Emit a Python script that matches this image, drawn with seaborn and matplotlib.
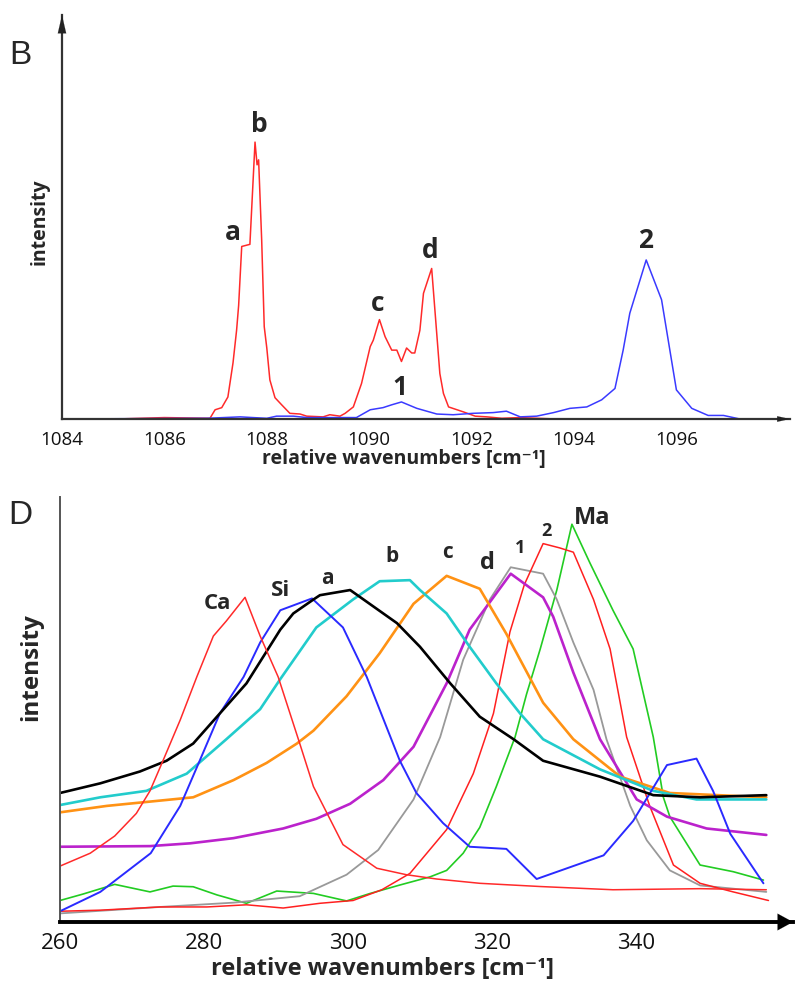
import numpy as np
import pandas as pd
import matplotlib
matplotlib.use("Agg")
import matplotlib.pyplot as plt
import seaborn as sns

# ---- panel B data (relative wavenumbers, arbitrary intensity) ----
b_red_x = [1085.07, 1086.0, 1086.89, 1086.99, 1087.12, 1087.24, 1087.34, 1087.41, 1087.45,
           1087.51, 1087.67, 1087.77, 1087.81, 1087.84, 1087.9, 1087.95, 1088.0, 1088.06,
           1088.16, 1088.29, 1088.45, 1088.65, 1088.78, 1089.1, 1089.23, 1089.43, 1089.53,
           1089.69, 1089.85, 1090.02, 1090.08, 1090.2, 1090.31, 1090.44, 1090.54, 1090.63,
           1090.73, 1090.83, 1090.89, 1090.99, 1091.06, 1091.22, 1091.38, 1091.45, 1091.55,
           1091.84, 1092.07, 1092.3, 1092.59, 1092.95, 1093.27, 1093.66]
b_red_y = [0.0, 0.02, 0.01, 0.13, 0.16, 0.31, 0.79, 1.25, 1.6,
           2.43, 2.46, 3.9, 3.58, 3.65, 2.52, 1.3, 1.0, 0.55,
           0.3, 0.2, 0.08, 0.07, 0.04, 0.03, 0.06, 0.04, 0.08,
           0.17, 0.5, 1.02, 1.11, 1.4, 1.16, 0.97, 0.97, 0.81,
           1.0, 0.93, 0.93, 1.25, 1.77, 2.12, 0.64, 0.36, 0.17,
           0.1, 0.04, 0.03, 0.01, 0.02, 0.01, 0.0]
b_blue_x = [1084.0, 1086.83, 1087.48, 1087.73, 1088.0, 1088.19, 1088.52, 1088.78, 1089.1,
            1089.75, 1090.02, 1090.27, 1090.44, 1090.63, 1090.93, 1091.32, 1091.64, 1092.03,
            1092.42, 1092.68, 1092.95, 1093.27, 1093.6, 1093.92, 1094.25, 1094.54, 1094.8,
            1094.96, 1095.09, 1095.41, 1095.71, 1096.0, 1096.3, 1096.62, 1096.92, 1097.24,
            1097.76]
b_blue_y = [0.0, 0.01, 0.03, 0.02, 0.01, 0.04, 0.04, 0.02, 0.02,
            0.02, 0.13, 0.16, 0.2, 0.24, 0.15, 0.07, 0.06, 0.08,
            0.09, 0.11, 0.03, 0.04, 0.09, 0.15, 0.17, 0.27, 0.43,
            0.97, 1.49, 2.24, 1.68, 0.41, 0.15, 0.05, 0.05, 0.0,
            0.0]
b_labels = ["a", "b", "c", "d", "1", "2"]
b_label_x = [1087.34, 1087.85, 1090.17, 1091.19, 1090.6, 1095.39]
b_label_y = [2.63, 4.15, 1.63, 2.38, 0.44, 2.51]
b_xticks = [1084, 1086, 1088, 1090, 1092, 1094, 1096]

# ---- panel D data ----
d_series = {
    "Ca": ([260, 264.2, 267.6, 270.6, 272.5, 274.3, 276.7, 279.0, 281.3, 283.1, 285.7, 287.8,
            290.3, 293.3, 295.2, 299.3, 304.0, 308.1, 312.3, 318.3, 326.7, 336.8, 348.9, 358.1],
           [0.26, 0.32, 0.40, 0.505, 0.61, 0.75, 0.94, 1.14, 1.33, 1.40, 1.51, 1.33,
            1.14, 0.83, 0.63, 0.36, 0.25, 0.22, 0.20, 0.18, 0.165, 0.15, 0.155, 0.15]),
    "Si": ([260, 265.6, 272.6, 276.7, 279.4, 282.2, 285.5, 287.8, 290.6, 295.0, 299.3, 302.6,
            307.2, 309.5, 313.2, 316.9, 322.0, 326.2, 335.5, 339.6, 344.3, 348.4, 350.7, 353.1,
            357.7],
           [0.05, 0.14, 0.32, 0.54, 0.75, 0.97, 1.14, 1.30, 1.45, 1.505, 1.37, 1.14,
            0.75, 0.60, 0.46, 0.35, 0.34, 0.20, 0.31, 0.47, 0.73, 0.76, 0.61, 0.41,
            0.18]),
    "a": ([260, 265.6, 271.1, 274.8, 278.5, 282.2, 285.9, 290.6, 292.4, 295.2, 296.1, 300.3,
           306.8, 310.0, 314.2, 318.3, 323.0, 327.1, 335.0, 342.4, 348.9, 358.1],
          [0.60, 0.645, 0.70, 0.75, 0.83, 0.97, 1.11, 1.36, 1.435, 1.50, 1.52, 1.544,
           1.39, 1.28, 1.11, 0.955, 0.85, 0.75, 0.676, 0.59, 0.58, 0.59]),
    "b": ([260, 265.6, 272.0, 277.6, 283.1, 287.8, 290.6, 295.6, 300.7, 304.4, 308.6, 310.0,
           313.7, 316.9, 320.6, 323.9, 327.1, 335.0, 342.4, 348.4, 358.1],
          [0.544, 0.58, 0.61, 0.69, 0.85, 0.99, 1.13, 1.37, 1.50, 1.585, 1.59, 1.544,
           1.435, 1.28, 1.11, 0.97, 0.85, 0.71, 0.61, 0.57, 0.57]),
    "c": ([260, 266.5, 272.5, 278.5, 284.1, 288.7, 292.9, 295.2, 299.8, 304.4, 309.1, 313.7,
           318.3, 322.0, 327.1, 331.3, 337.8, 344.7, 358.1],
          [0.51, 0.54, 0.56, 0.58, 0.66, 0.74, 0.83, 0.89, 1.05, 1.25, 1.48, 1.61,
           1.55, 1.34, 1.02, 0.85, 0.676, 0.60, 0.58]),
    "d": ([260, 272.5, 278.1, 284.1, 291.0, 295.6, 300.3, 304.9, 309.1, 313.7, 316.9, 322.6,
           327.1, 328.5, 331.3, 335.0, 340.1, 344.3, 349.8, 358.1],
          [0.35, 0.353, 0.366, 0.39, 0.435, 0.48, 0.55, 0.66, 0.815, 1.11, 1.36, 1.62,
           1.51, 1.42, 1.16, 0.85, 0.57, 0.49, 0.435, 0.405]),
    "1": ([260, 273.9, 284.1, 293.3, 299.8, 304.2, 309.1, 312.8, 316.0, 319.7, 322.6, 327.1,
           329.0, 331.3, 334.1, 335.9, 339.2, 341.5, 344.7, 348.9, 358.1],
          [0.04, 0.07, 0.09, 0.12, 0.22, 0.335, 0.57, 0.86, 1.22, 1.50, 1.65, 1.62,
           1.50, 1.30, 1.08, 0.85, 0.54, 0.38, 0.24, 0.17, 0.14]),
    "2": ([260, 265.6, 273.9, 280.4, 285.9, 291.0, 296.1, 300.7, 304.7, 308.6, 313.7, 317.4,
           320.2, 322.5, 324.5, 327.1, 329.4, 331.3, 334.1, 336.4, 338.7, 341.9, 345.2, 348.9,
           353.5, 358.4],
          [0.05, 0.055, 0.07, 0.07, 0.08, 0.065, 0.087, 0.10, 0.15, 0.226, 0.43, 0.69,
           0.97, 1.35, 1.57, 1.76, 1.74, 1.72, 1.50, 1.27, 0.86, 0.54, 0.265, 0.18,
           0.14, 0.10]),
    "Ma": ([260, 263.2, 267.6, 272.5, 275.7, 278.5, 281.8, 285.9, 290.1, 295.2, 299.8, 303.1,
            307.2, 311.4, 313.7, 316.0, 318.3, 320.6, 323.2, 324.8, 326.7, 329.0, 331.1, 333.6,
            336.8, 339.6, 342.4, 343.8, 344.7, 348.9, 353.5, 357.7],
           [0.10, 0.13, 0.175, 0.14, 0.167, 0.164, 0.126, 0.087, 0.144, 0.133, 0.098, 0.133,
            0.172, 0.21, 0.24, 0.32, 0.44, 0.63, 0.86, 1.06, 1.27, 1.544, 1.85, 1.67,
            1.45, 1.27, 0.86, 0.58, 0.49, 0.265, 0.234, 0.195]),
}
d_colors = {"Ca": "#ff2a2a", "Si": "#2a2aff", "a": "#000000", "b": "#22cccc",
            "c": "#ff9214", "d": "#bb22cc", "1": "#999999", "2": "#ff2020", "Ma": "#22cc22"}
d_widths = {"Ca": 1.1, "Si": 1.4, "a": 1.9, "b": 1.9, "c": 1.9, "d": 1.9,
            "1": 1.3, "2": 1.1, "Ma": 1.2}
d_order = ["Ma", "1", "2", "d", "c", "b", "Si", "a", "Ca"]
d_label_x = {"Ca": 281.9, "Si": 290.7, "a": 297.1, "b": 306.1, "c": 313.75,
             "d": 319.4, "1": 323.9, "2": 327.6, "Ma": 333.9}
d_label_y = {"Ca": 1.48, "Si": 1.54, "a": 1.60, "b": 1.70, "c": 1.72,
             "d": 1.67, "1": 1.74, "2": 1.82, "Ma": 1.88}
d_label_size = {"Ca": 16, "Si": 16, "a": 15, "b": 15, "c": 15, "d": 17,
                "1": 13, "2": 13, "Ma": 17}
d_xticks = [260, 280, 300, 320, 340]
d_yticks = [0.544, 1.544]

sns.set_style("white")
plt.rcParams["font.family"] = ["Open Sans", "DejaVu Sans"]

W, H = 795, 984
fig = plt.figure(figsize=(W / 100, H / 100), dpi=100)


def px_axes(left, top, right, bottom):
    return fig.add_axes([left / W, 1 - bottom / H, (right - left) / W, (bottom - top) / H])


def arrow(ax, start, end, hl, hw, color):
    ax.annotate("", xy=end, xytext=start, xycoords="axes fraction",
                arrowprops=dict(arrowstyle=f"-|>,head_length={hl},head_width={hw}",
                                color=color, lw=0.1, shrinkA=0, shrinkB=0,
                                mutation_scale=10), annotation_clip=False)


# ---------------- panel B ----------------
axB = px_axes(62, 15, 790, 419)
sns.lineplot(x=b_red_x, y=b_red_y, ax=axB, color="#ff2a2a", lw=1.1, sort=False, estimator=None)
sns.lineplot(x=b_blue_x, y=b_blue_y, ax=axB, color="#3a3aff", lw=1.1, sort=False, estimator=None)
axB.set_xlim(1084, 1084 + 728 / 51.2)
axB.set_ylim(0, 404 / 71)
axB.set_xticks(b_xticks)
axB.set_xticklabels([str(t) for t in b_xticks])
axB.set_yticks([1, 2, 3, 4])
axB.set_yticklabels([])
axB.tick_params(axis="x", direction="inout", length=11, width=1.2, color="#333333",
                labelsize=13.5, pad=3, labelcolor="#111111")
axB.tick_params(axis="y", direction="inout", length=9, width=1.2, color="#333333")
for s in ["top", "right"]:
    axB.spines[s].set_visible(False)
for s in ["left", "bottom"]:
    axB.spines[s].set_color("#333333")
    axB.spines[s].set_linewidth(1.6)
arrow(axB, (0, 0.95), (0, 1.0), 1.3, 0.3, "#222222")
arrow(axB, (0.98, 0), (1.0, 0), 0.9, 0.2, "#222222")
axB.set_xlabel("relative wavenumbers [cm⁻¹]", fontsize=14, fontweight="bold")
axB.xaxis.set_label_coords(0.47, -0.074)
axB.set_ylabel("intensity", fontsize=14, fontweight="bold")
axB.yaxis.set_label_coords(-0.0165, 0.488)
for lab, lx, ly in zip(b_labels, b_label_x, b_label_y):
    axB.text(lx, ly, lab, fontsize=19, fontweight="bold", ha="center", va="center")
fig.text(20 / W, 1 - 55 / H, "B", fontsize=24, family="Liberation Sans",
         ha="center", va="center")

# ---------------- panel D ----------------
axD = px_axes(60, 497, 793, 922)
for name in d_order:
    xs, ys = d_series[name]
    sns.lineplot(x=xs, y=ys, ax=axD, color=d_colors[name], lw=d_widths[name],
                 sort=False, estimator=None)
for name in d_series:
    axD.text(d_label_x[name], d_label_y[name], name, fontsize=d_label_size[name],
             fontweight="bold", ha="center", va="center")
axD.set_xlim(260, 260 + 733 / 7.2)
axD.set_ylim(0, 425 / 215)
axD.set_xticks(d_xticks)
axD.set_xticklabels([str(t) for t in d_xticks])
axD.set_yticks(d_yticks)
axD.set_yticklabels([])
axD.tick_params(axis="x", direction="in", length=11, width=1.4, color="#222222",
                labelsize=16, pad=8, labelcolor="#111111")
axD.tick_params(axis="y", direction="inout", length=9, width=1.4, color="#222222")
for s in ["top", "right"]:
    axD.spines[s].set_visible(False)
axD.spines["left"].set_color("#555555")
axD.spines["left"].set_linewidth(1.4)
axD.spines["bottom"].set_color("#000000")
axD.spines["bottom"].set_linewidth(2.8)
arrow(axD, (0.975, 0), (1.0, 0), 1.1, 0.6, "#000000")
axD.set_xlabel("relative wavenumbers [cm⁻¹]", fontsize=17, fontweight="bold")
axD.xaxis.set_label_coords(0.44, -0.082)
axD.set_ylabel("intensity", fontsize=17.5, fontweight="bold")
axD.yaxis.set_label_coords(-0.023, 0.60)
fig.text(20 / W, 1 - 515 / H, "D", fontsize=24, family="Liberation Sans",
         ha="center", va="center")

fig.savefig("out.png", dpi=100)
